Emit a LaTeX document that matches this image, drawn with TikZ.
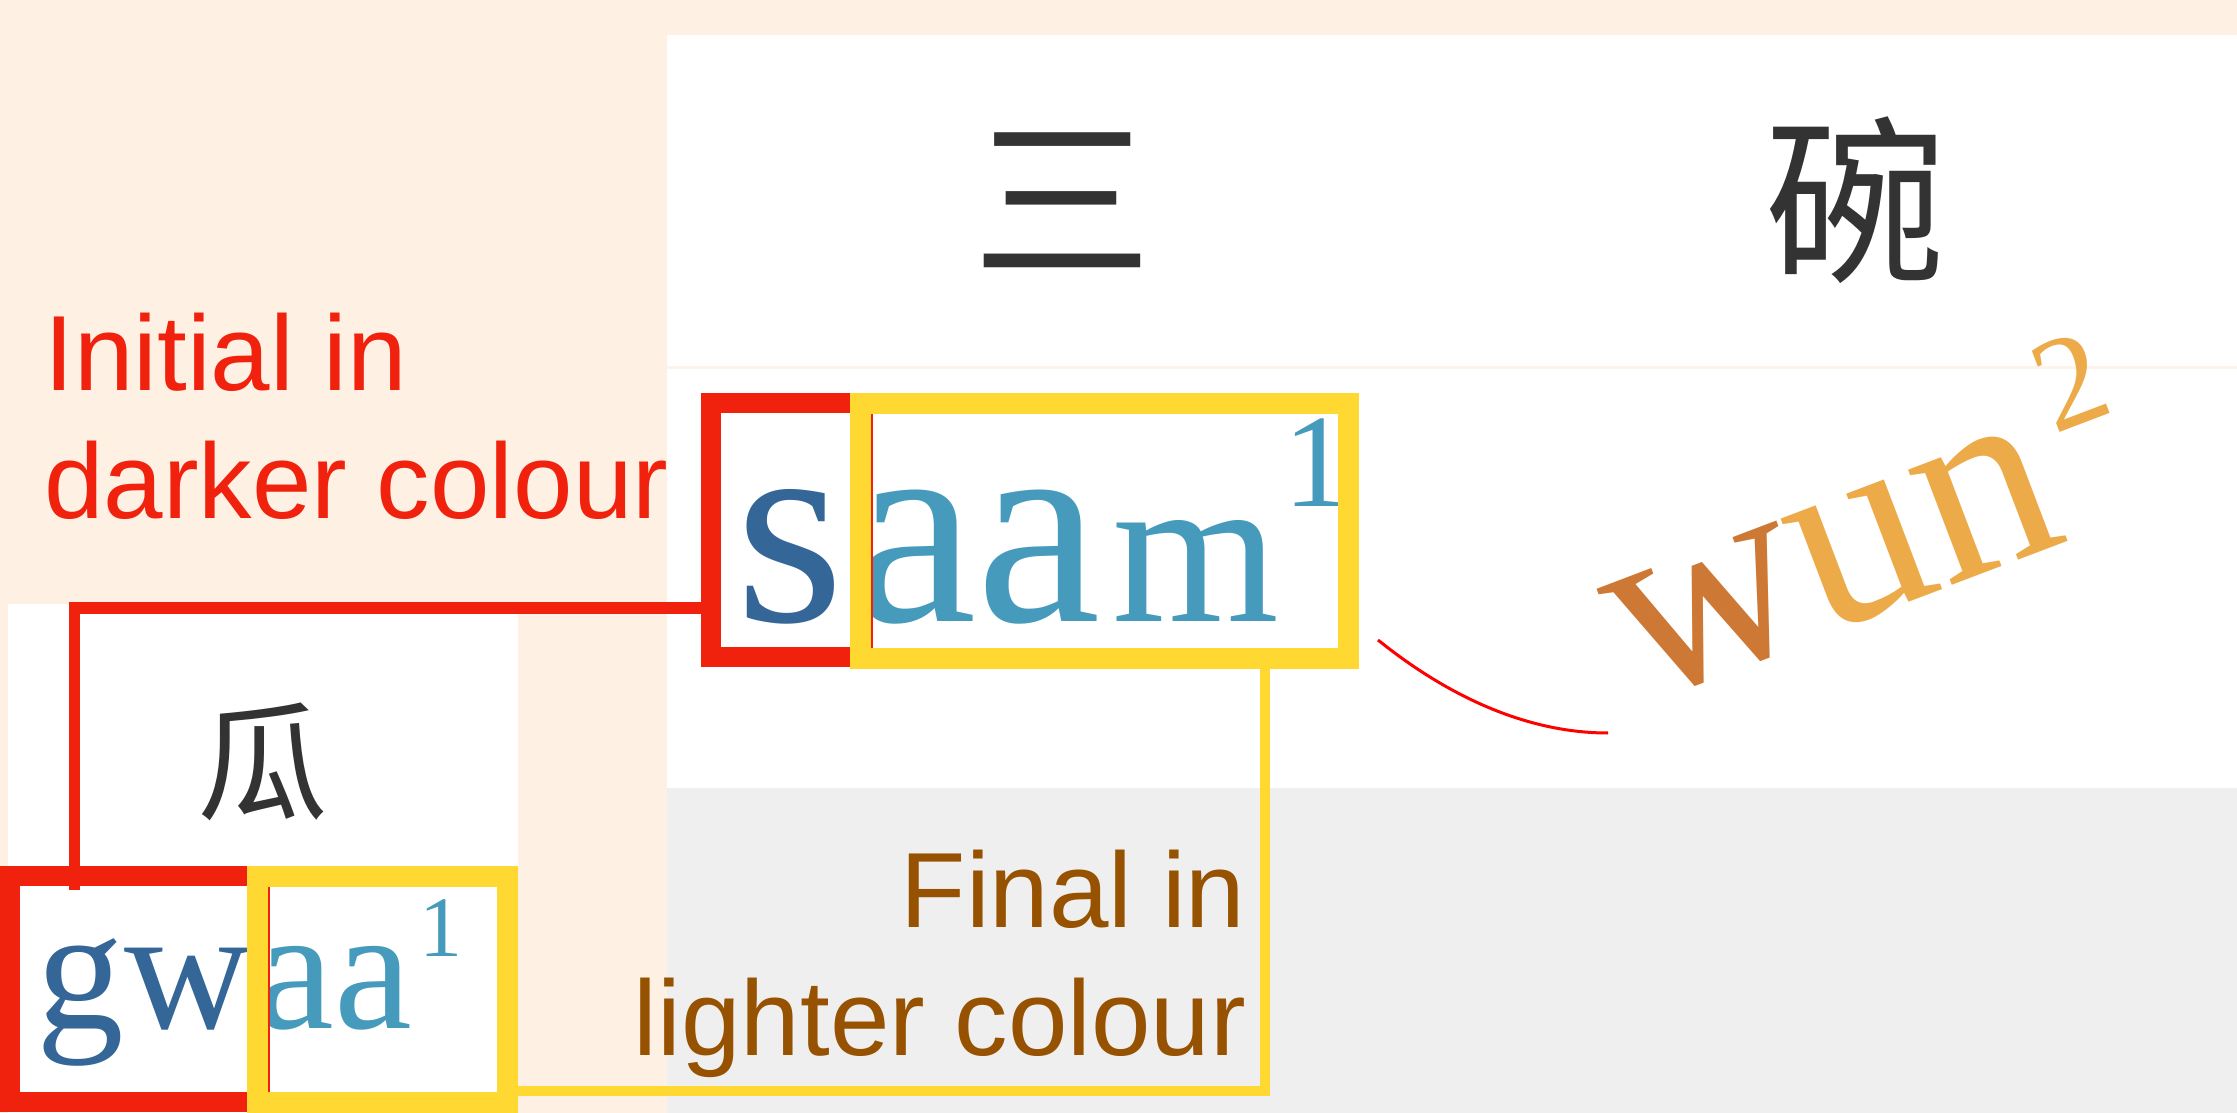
\documentclass[tikz,border=0pt]{standalone}
\usepackage{fontspec}
\setmainfont{Liberation Serif}
\newfontfamily\labelfont{Liberation Sans}
\newfontfamily\cjkfont{Noto Sans CJK TC}
\definecolor{peach}{RGB}{254,240,227}
\definecolor{panelgrey}{RGB}{239,239,239}
\definecolor{faintline}{RGB}{252,243,235}
\definecolor{boxred}{RGB}{240,34,14}
\definecolor{boxyellow}{RGB}{255,216,50}
\definecolor{labelbrown}{RGB}{150,82,0}
\definecolor{inidark}{RGB}{52,103,152}
\definecolor{finlight}{RGB}{70,155,189}
\definecolor{wdark}{RGB}{205,120,52}
\definecolor{wlight}{RGB}{237,170,72}
\definecolor{hanzi}{RGB}{51,51,51}
\definecolor{arcred}{RGB}{255,0,0}
\newcommand{\fsz}[1]{\fontsize{#1pt}{#1pt}\selectfont}
\begin{document}
\begin{tikzpicture}[x=0.01cm,y=-0.01cm,
  txt/.style={inner sep=0pt, outer sep=0pt},
  lbl/.style={txt, font=\labelfont\fsz{30.4}},
  hz/.style={txt, text=hanzi},
  initbox/.style={draw=boxred, line width=0.2cm, inner sep=0pt, outer sep=0pt},
  finbox/.style={draw=boxyellow, line width=0.21cm, inner sep=0pt, outer sep=0pt},
  redlink/.style={draw=boxred, line width=0.11cm},
  yellink/.style={draw=boxyellow, line width=0.10cm}]
\useasboundingbox (0,0) rectangle (2237,1113);
% backgrounds
\fill[peach] (0,0) rectangle (2237,1113);
\fill[white] (667,35) rectangle (2237,788);
\fill[panelgrey] (667,788) rectangle (2237,1113);
\fill[white] (8,604) rectangle (518,1113);
\draw[faintline, line width=0.03cm] (667,368) -- (2237,368);
% labels
\node[lbl, text=boxred, anchor=base west] (l1) at (44.5,391) {Initial in};
\node[lbl, text=boxred, anchor=base west] (l2) at (44.4,519) {darker colour};
\node[lbl, text=labelbrown, anchor=base east] (l3) at (1245.5,927) {Final in};
\node[lbl, text=labelbrown, anchor=base east] (l4) at (1246,1055) {lighter colour};
% hanzi
\node[hz, font=\cjkfont\fsz{51.2}] (san) at (1063,200) {三};
\node[hz, font=\cjkfont\fsz{51.2}] (wun) at (1855,200) {碗};
\node[hz, font=\cjkfont\fsz{37}] (gwa) at (263,762) {瓜};
% saam1
\node[txt, text=inidark, font=\fsz{79.7}, anchor=base west] (sS) at (735,622) {s};
\node[txt, text=finlight, font=\fsz{79.7}, anchor=base west] (sA) at (852,622) {aa};
\node[txt, text=finlight, font=\fsz{61}, anchor=base west] (sM) at (1112,622) {m};
\node[txt, text=finlight, font=\fsz{37.8}, anchor=base west] (sT) at (1283,507) {1};
% gwaa1
\node[txt, text=inidark, font=\fsz{49.8}, anchor=base west] (gI) at (37,1028) {gw};
\node[txt, text=finlight, font=\fsz{49.8}, anchor=base west] (gA) at (256.5,1028) {aa};
\node[txt, text=finlight, font=\fsz{24.5}, anchor=base west] (gT) at (419,956) {1};
% wun2
\node[txt, font=\fsz{76.3}, anchor=base west, rotate=20.8] (wW) at (1640,704) {\textcolor{wdark}{w}\textcolor{wlight}{un}};
\node[txt, text=wlight, font=\fsz{38}, rotate=20.8] (wT) at (2070,381) {2};
\draw[arcred, line width=0.03cm] (1378,640) .. controls (1440,690) and (1520,733) .. (1608,733);
% boxes
\node[initbox, minimum width=1.52cm, minimum height=2.54cm] (iniS) at (787,530) {};
\node[finbox, minimum width=4.88cm, minimum height=2.55cm] (finS) at (1104.5,531) {};
\node[initbox, minimum width=2.5cm, minimum height=2.26cm] (iniG) at (135,989) {};
\node[finbox, minimum width=2.5cm, minimum height=2.26cm] (finG) at (382.5,989.5) {};
% connectors
\coordinate (rc) at (74.5,608);
\coordinate (yc) at (1265,1091);
\draw[redlink] (iniS.west |- rc) -- (rc) -- ([yshift=-0.14cm]rc |- iniG.north);
\draw[yellink] (finG.east |- yc) -- (yc) -- (yc |- finS.south);
\end{tikzpicture}
\end{document}
